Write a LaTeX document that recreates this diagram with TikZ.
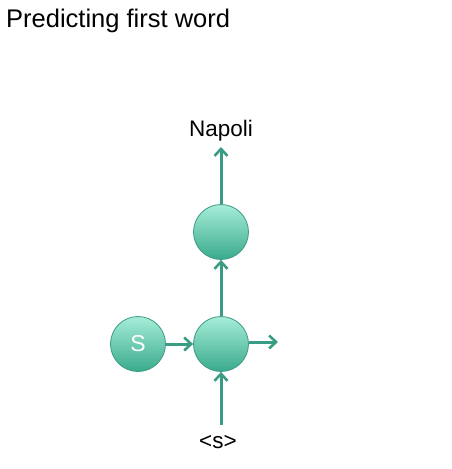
\documentclass[tikz,border=0pt]{standalone}
\usepackage{fontspec}
\setmainfont{Liberation Sans}
\usetikzlibrary{arrows.meta}
\definecolor{teal1}{HTML}{3A9C84}
\definecolor{topc}{HTML}{A6EDD8}
\definecolor{botc}{HTML}{3AAA8C}
\tikzset{
  cell/.style={circle, minimum size=55pt, inner sep=0pt, draw=teal1, line width=0.8pt, top color=topc, bottom color=botc},
  arr/.style={draw=teal1, line width=3pt, -{Straight Barb[length=7pt,width=13pt,line width=2.6pt]}},
}
\begin{document}
\begin{tikzpicture}[x=1pt,y=-1pt]
\useasboundingbox (0,0) rectangle (452,469);
\node[anchor=base west, font=\fontsize{25.5}{30}\selectfont, inner sep=0pt] (title) at (6,27) {Predicting first word};
\node[cell, font=\fontsize{23}{27}\selectfont, text=white] (s) at (138,344) {S};
\node[cell] (h) at (221,344) {};
\node[cell] (o) at (221,232) {};
\node[font=\fontsize{22.5}{26}\selectfont] (nap) at (221,131) {Napoli};
\node[font=\fontsize{22.5}{26}\selectfont] (in) at (218,442) {<s>};
\coordinate (r) at (278,342);
\coordinate (inb) at (221,425);
\coordinate (napb) at (221,147);
\draw[arr] (s.east) -- (h.west);
\draw[arr] (h.east|-r) -- (r);
\draw[arr] (inb) -- (h.south);
\draw[arr] (h.north) -- (o.south);
\draw[arr] (o.north) -- (napb);
\end{tikzpicture}
\end{document}
